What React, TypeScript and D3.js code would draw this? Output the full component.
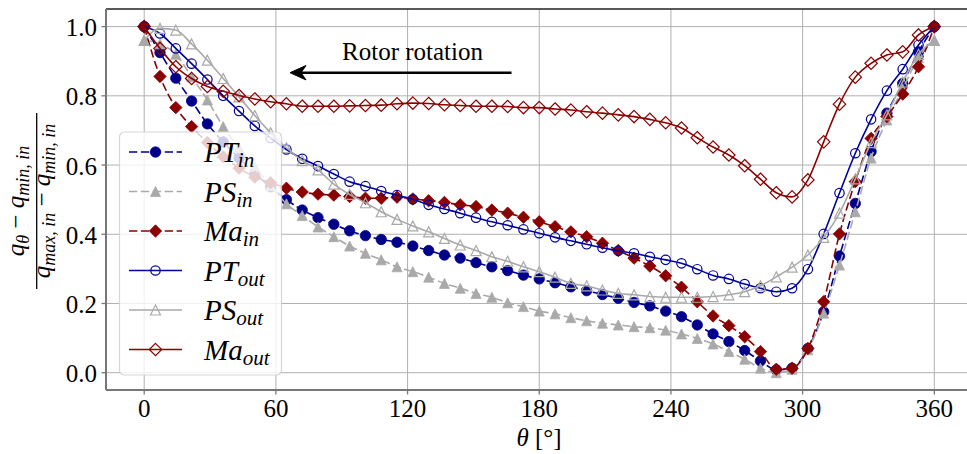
import React from "react";
import * as d3 from "d3";

const theta = [0, 7.2, 14.4, 21.6, 28.8, 36, 43.2, 50.4, 57.6, 64.8, 72, 79.2, 86.4, 93.6, 100.8, 108, 115.2, 122.4, 129.6, 136.8, 144, 151.2, 158.4, 165.6, 172.8, 180, 187.2, 194.4, 201.6, 208.8, 216, 223.2, 230.4, 237.6, 244.8, 252, 259.2, 266.4, 273.6, 280.8, 288, 295.2, 302.4, 309.6, 316.8, 324, 331.2, 338.4, 345.6, 352.8, 360];

const ptIn = [1.0, 0.925, 0.851, 0.785, 0.719, 0.667, 0.620, 0.575, 0.537, 0.500, 0.470, 0.448, 0.429, 0.410, 0.396, 0.385, 0.377, 0.366, 0.353, 0.340, 0.331, 0.318, 0.306, 0.295, 0.282, 0.271, 0.260, 0.248, 0.237, 0.226, 0.215, 0.203, 0.193, 0.178, 0.162, 0.138, 0.112, 0.090, 0.064, 0.034, 0.008, 0.013, 0.070, 0.176, 0.337, 0.489, 0.639, 0.750, 0.836, 0.927, 1.0];
const psIn = [0.960, 0.950, 0.920, 0.855, 0.788, 0.711, 0.650, 0.595, 0.540, 0.488, 0.454, 0.421, 0.393, 0.366, 0.345, 0.326, 0.306, 0.292, 0.276, 0.258, 0.244, 0.229, 0.218, 0.202, 0.191, 0.178, 0.170, 0.159, 0.150, 0.143, 0.138, 0.133, 0.130, 0.123, 0.112, 0.099, 0.083, 0.061, 0.039, 0.013, 0.000, 0.010, 0.066, 0.172, 0.311, 0.465, 0.620, 0.730, 0.820, 0.910, 0.960];
const maIn = [1.0, 0.856, 0.766, 0.711, 0.665, 0.624, 0.591, 0.565, 0.549, 0.533, 0.522, 0.516, 0.513, 0.509, 0.504, 0.504, 0.507, 0.502, 0.497, 0.492, 0.485, 0.480, 0.470, 0.461, 0.449, 0.436, 0.422, 0.407, 0.393, 0.374, 0.353, 0.331, 0.308, 0.280, 0.247, 0.205, 0.164, 0.136, 0.104, 0.061, 0.010, 0.013, 0.070, 0.205, 0.401, 0.552, 0.677, 0.740, 0.805, 0.884, 1.0];
const ptOut = [1.0, 0.980, 0.937, 0.893, 0.847, 0.800, 0.756, 0.713, 0.678, 0.645, 0.618, 0.597, 0.574, 0.552, 0.539, 0.525, 0.513, 0.501, 0.485, 0.473, 0.461, 0.448, 0.436, 0.426, 0.414, 0.403, 0.391, 0.381, 0.371, 0.361, 0.352, 0.345, 0.335, 0.326, 0.316, 0.299, 0.281, 0.271, 0.256, 0.244, 0.234, 0.244, 0.299, 0.401, 0.519, 0.634, 0.732, 0.815, 0.877, 0.947, 1.0];
const psOut = [0.960, 0.995, 0.990, 0.950, 0.903, 0.850, 0.797, 0.743, 0.693, 0.650, 0.613, 0.586, 0.545, 0.515, 0.491, 0.465, 0.443, 0.424, 0.407, 0.388, 0.369, 0.353, 0.335, 0.322, 0.306, 0.292, 0.276, 0.258, 0.251, 0.239, 0.229, 0.225, 0.220, 0.218, 0.218, 0.218, 0.220, 0.225, 0.234, 0.251, 0.277, 0.305, 0.340, 0.391, 0.461, 0.560, 0.665, 0.745, 0.840, 0.920, 0.960];
const maOut = [1.0, 0.937, 0.884, 0.850, 0.827, 0.813, 0.801, 0.791, 0.783, 0.777, 0.770, 0.770, 0.770, 0.771, 0.772, 0.773, 0.777, 0.779, 0.778, 0.774, 0.772, 0.770, 0.770, 0.769, 0.766, 0.766, 0.762, 0.759, 0.754, 0.750, 0.745, 0.740, 0.732, 0.722, 0.707, 0.679, 0.652, 0.629, 0.598, 0.559, 0.520, 0.508, 0.557, 0.667, 0.776, 0.854, 0.894, 0.918, 0.927, 0.976, 1.0];

const xTicks = [0, 60, 120, 180, 240, 300, 360];
const yTicks = [0.0, 0.2, 0.4, 0.6, 0.8, 1.0];

type Series = { main: string; sub: string; values: number[]; color: string; marker: "circle" | "triangle" | "diamond"; filled: boolean; dashed: boolean };

const series: Series[] = [
  { main: "PT", sub: "in", values: ptIn, color: "#00008B", marker: "circle", filled: true, dashed: true },
  { main: "PS", sub: "in", values: psIn, color: "#A9A9A9", marker: "triangle", filled: true, dashed: true },
  { main: "Ma", sub: "in", values: maIn, color: "#8B0000", marker: "diamond", filled: true, dashed: true },
  { main: "PT", sub: "out", values: ptOut, color: "#00009C", marker: "circle", filled: false, dashed: false },
  { main: "PS", sub: "out", values: psOut, color: "#A9A9A9", marker: "triangle", filled: false, dashed: false },
  { main: "Ma", sub: "out", values: maOut, color: "#8B0000", marker: "diamond", filled: false, dashed: false },
];

const W = 967, H = 454;
const plotL = 106, plotR = 973, plotT = 9, plotB = 390;
const x = d3.scaleLinear().domain([0, 360]).range([144.2, 934.3]);
const y = d3.scaleLinear().domain([0, 1]).range([372.7, 26.6]);
const SERIF = "'Liberation Serif', 'DejaVu Serif', serif";

function Marker({ s, cx, cy }: { s: Series; cx: number; cy: number }) {
  const fill = s.filled ? s.color : "none";
  const sw = s.filled ? 0.8 : 1.2;
  if (s.marker === "circle") {
    const r = s.filled ? 5.2 : 4.7;
    return <circle cx={cx} cy={cy} r={r} fill={fill} stroke={s.color} strokeWidth={sw} />;
  }
  if (s.marker === "triangle") {
    const h = 5;
    const p = `M${cx},${cy - h}L${cx + h},${cy + h}L${cx - h},${cy + h}Z`;
    return <path d={p} fill={fill} stroke={s.color} strokeWidth={sw} strokeLinejoin="miter" />;
  }
  const d = 6.2;
  const p = `M${cx},${cy - d}L${cx + d},${cy}L${cx},${cy + d}L${cx - d},${cy}Z`;
  return <path d={p} fill={fill} stroke={s.color} strokeWidth={sw} />;
}

export default function App() {
  const line = d3
    .line<number>()
    .x((_, i) => x(theta[i]))
    .y((v) => y(v))
    .curve(d3.curveMonotoneX);

  const legendX = 119.5, legendY = 132, legendW = 162, legendH = 243;
  const entryY0 = 152, entryDy = 39.5;

  return (
    <svg width={W} height={H} style={{ position: "absolute", left: 0, top: 0, background: "#fff" }}>
      <defs>
        <clipPath id="plotclip">
          <rect x={plotL} y={plotT} width={plotR - plotL} height={plotB - plotT} />
        </clipPath>
      </defs>
      <rect x={0} y={0} width={W} height={H} fill="#fff" />
      {/* grid */}
      <g stroke="#b0b0b0" strokeWidth={1}>
        {xTicks.map((t) => (
          <line key={"gx" + t} x1={x(t)} x2={x(t)} y1={plotT} y2={plotB} />
        ))}
        {yTicks.map((t) => (
          <line key={"gy" + t} x1={plotL} x2={plotR} y1={y(t)} y2={y(t)} />
        ))}
      </g>

      {/* arrow + annotation */}
      <text x={412.5} y={60} fontFamily={SERIF} fontSize={25} textAnchor="middle" fill="#000">
        Rotor rotation
      </text>
      <line x1={299} y1={72.7} x2={511.5} y2={72.7} stroke="#000" strokeWidth={2.5} />
      <path d="M290,72.7 L306,65.5 L301,72.7 L306,79.9 Z" fill="#000" stroke="#000" strokeWidth={1} strokeLinejoin="miter" />

      {/* series */}
      <g clipPath="url(#plotclip)">
        {series.map((s, si) => (
          <g key={"s" + si}>
            <path
              d={line(s.values) || ""}
              fill="none"
              stroke={s.color}
              strokeWidth={1.6}
              strokeDasharray={s.dashed ? "8.3,3.6" : undefined}
            />
            {s.values.map((v, i) => (
              <Marker key={i} s={s} cx={x(theta[i])} cy={y(v)} />
            ))}
          </g>
        ))}
      </g>

      {/* spines */}
      <line x1={plotL} x2={plotR} y1={plotT} y2={plotT} stroke="#222" strokeWidth={1.3} />
      <line x1={plotL} x2={plotL} y1={plotT} y2={plotB} stroke="#777" strokeWidth={2} />
      <line x1={plotL} x2={plotR} y1={plotB} y2={plotB} stroke="#777" strokeWidth={2} />

      {/* ticks */}
      <g stroke="#777" strokeWidth={1.3}>
        {xTicks.map((t) => (
          <line key={"tx" + t} x1={x(t)} x2={x(t)} y1={plotB} y2={plotB + 4.5} />
        ))}
        {yTicks.map((t) => (
          <line key={"ty" + t} x1={plotL - 4.5} x2={plotL} y1={y(t)} y2={y(t)} />
        ))}
      </g>
      <g fontFamily={SERIF} fontSize={25} fill="#000">
        {xTicks.map((t) => (
          <text key={"lx" + t} x={x(t)} y={416.5} textAnchor="middle">
            {String(t)}
          </text>
        ))}
        {yTicks.map((t) => (
          <text key={"ly" + t} x={97} y={y(t) + 9.5} textAnchor="end">
            {t.toFixed(1)}
          </text>
        ))}
      </g>

      {/* x label */}
      <text x={539} y={446} textAnchor="middle" fontFamily={SERIF} fontSize={25} fill="#000">
        <tspan fontStyle="italic">θ</tspan>
        <tspan> [°]</tspan>
      </text>

      {/* y label (fraction) */}
      <g transform="translate(36.7,201) rotate(-90)" fontFamily={SERIF} fill="#000">
        <text x={0} y={-13} textAnchor="middle" fontSize={25} fontStyle="italic">
          <tspan>q</tspan>
          <tspan fontSize={18} dy={5}>θ</tspan>
          <tspan dy={-5} fontStyle="normal"> − </tspan>
          <tspan>q</tspan>
          <tspan fontSize={18} dy={5}>min, in</tspan>
        </text>
        <line x1={-88} x2={88} y1={0} y2={0} stroke="#000" strokeWidth={1.3} />
        <text x={0} y={13} textAnchor="middle" fontSize={25} fontStyle="italic">
          <tspan>q</tspan>
          <tspan fontSize={18} dy={5}>max, in</tspan>
          <tspan dy={-5} fontStyle="normal"> − </tspan>
          <tspan>q</tspan>
          <tspan fontSize={18} dy={5}>min, in</tspan>
        </text>
      </g>

      {/* legend */}
      <rect x={legendX} y={legendY} width={legendW} height={legendH} rx={5} ry={5} fill="#fff" fillOpacity={0.8} stroke="#cccccc" strokeOpacity={0.8} strokeWidth={1.2} />
      {series.map((s, i) => {
        const ey = entryY0 + i * entryDy;
        return (
          <g key={"lg" + i}>
            <line x1={129} x2={182} y1={ey} y2={ey} stroke={s.color} strokeWidth={1.6} strokeDasharray={s.dashed ? "8.3,3.6" : undefined} />
            <Marker s={s} cx={155.5} cy={ey} />
            <text x={204} y={ey + 10} fontFamily={SERIF} fontStyle="italic" fontSize={29} fill="#000">
              <tspan>{s.main}</tspan>
              <tspan fontSize={21} dy={5}>{s.sub}</tspan>
            </text>
          </g>
        );
      })}
    </svg>
  );
}
